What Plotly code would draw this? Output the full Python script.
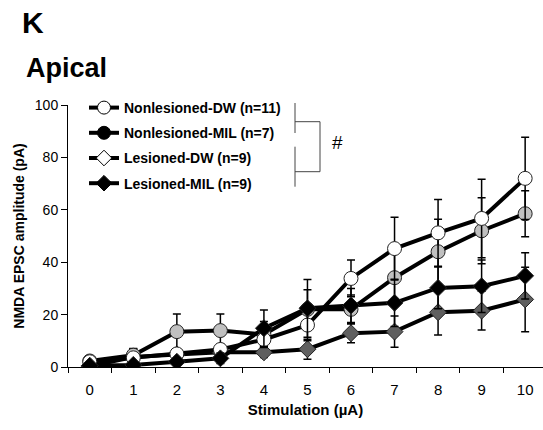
import plotly.graph_objects as go

# ---------------- data ----------------
stim = ["0", "1", "2", "3", "4", "5", "6", "7", "8", "9", "10"]

nl_dw = [2.0, 3.5, 5.0, 6.7, 10.5, 16.0, 33.8, 45.2, 51.2, 56.7, 72.0]
nl_dw_err = [1.0, 1.5, 2.0, 2.0, 3.0, 6.0, 7.0, 12.0, 12.7, 15.0, 15.7]

nl_mil = [2.3, 4.5, 13.5, 13.9, 12.4, 22.0, 22.0, 34.1, 44.0, 52.0, 58.5]
nl_mil_err = [1.0, 2.5, 6.7, 6.3, 5.0, 7.5, 5.5, 10.0, 12.4, 12.6, 8.8]

l_dw = [0.3, 3.8, 4.8, 5.6, 5.6, 6.8, 12.9, 13.5, 20.9, 21.5, 25.8]
l_dw_err = [0.5, 3.3, 1.5, 1.5, 2.0, 3.8, 3.6, 6.0, 8.7, 7.4, 12.3]

l_mil = [0.5, 0.8, 2.0, 3.3, 14.8, 22.4, 23.5, 24.5, 30.2, 30.8, 34.8]
l_mil_err = [0.5, 1.0, 1.5, 2.0, 7.0, 11.0, 6.5, 9.0, 8.0, 10.0, 8.8]

names = ["Nonlesioned-DW (n=11)", "Nonlesioned-MIL (n=7)",
         "Lesioned-DW (n=9)", "Lesioned-MIL (n=9)"]
y_ticks = [0, 20, 40, 60, 80, 100]

FONT = "Arial, 'Liberation Sans', sans-serif"

# ---------------- geometry helpers (pixels -> paper) ----------------
W, H = 543, 430
L, R, T, B = 68, 0, 105, 63
PW, PH = W - L - R, H - T - B


def px(x):
    return (x - L) / PW


def py(y):
    return (H - B - y) / PH


fig = go.Figure()


def series(y, err, symbol, fill, size):
    fig.add_trace(go.Scatter(
        x=stim, y=y, mode="lines+markers", showlegend=False,
        line=dict(color="black", width=4),
        marker=dict(symbol=symbol, size=size, color=fill,
                    line=dict(color="#222222", width=1)),
        error_y=dict(type="data", array=err, visible=True,
                     color="black", thickness=1.5, width=4),
    ))


# plotted series (drawing order)
series(l_dw, l_dw_err, "diamond", "#5f5f5f", 13)
series(nl_mil, nl_mil_err, "circle", "#c0c0c0", 14)
series(nl_dw, nl_dw_err, "circle", "white", 14)
series(l_mil, l_mil_err, "diamond", "black", 13)

# legend entries (legend symbols as in the original figure)
leg_styles = [("circle", "white", 13), ("circle", "black", 13),
              ("diamond", "white", 12), ("diamond", "black", 12)]
for i, (nm, (sym, col, sz)) in enumerate(zip(names, leg_styles)):
    fig.add_trace(go.Scatter(
        x=[None], y=[None], name=nm, mode="lines+markers",
        legendgroup=f"g{i}",
        line=dict(color="black", width=4),
        marker=dict(symbol=sym, size=sz, color=col,
                    line=dict(color="black", width=1)),
    ))

# significance bracket
bk = dict(type="line", xref="paper", yref="paper",
          line=dict(color="#444444", width=1))
x1, x2 = px(295), px(320)
shapes = [
    dict(bk, x0=x1, x1=x1, y0=py(103), y1=py(133)),
    dict(bk, x0=x1, x1=x2, y0=py(121.7), y1=py(121.7)),
    dict(bk, x0=x2, x1=x2, y0=py(121.7), y1=py(171.7)),
    dict(bk, x0=x1, x1=x2, y0=py(171.7), y1=py(171.7)),
    dict(bk, x0=x1, x1=x1, y0=py(146.7), y1=py(186.7)),
]

annotations = [
    dict(text="<b>K</b>", xref="paper", yref="paper", x=px(20), y=py(22),
         xanchor="left", yanchor="middle", showarrow=False,
         font=dict(size=30, color="black", family=FONT)),
    dict(text="<b>Apical</b>", xref="paper", yref="paper", x=px(24), y=py(68),
         xanchor="left", yanchor="middle", showarrow=False,
         font=dict(size=27, color="black", family=FONT)),
    dict(text="#", xref="paper", yref="paper", x=px(337), y=py(142),
         xanchor="center", yanchor="middle", showarrow=False,
         font=dict(size=19, color="black", family=FONT)),
]

fig.update_layout(
    width=W, height=H,
    margin=dict(l=L, r=R, t=T, b=B),
    paper_bgcolor="white", plot_bgcolor="white",
    font=dict(family=FONT, color="black"),
    shapes=shapes, annotations=annotations,
    legend=dict(x=px(84), y=py(92), xanchor="left", yanchor="top",
                bgcolor="rgba(0,0,0,0)", tracegroupgap=4,
                font=dict(size=14, family=FONT, weight="bold"),
                itemwidth=30),
    xaxis=dict(type="category", categoryorder="array", categoryarray=stim,
               range=[-0.5, 10.41], tickson="boundaries",
               ticks="outside", ticklen=5, tickcolor="black",
               showline=True, linecolor="black", linewidth=1,
               showgrid=False, zeroline=False,
               tickfont=dict(size=15), ticklabelstandoff=9,
               title=dict(text="<b>Stimulation (µA)</b>",
                          font=dict(size=15), standoff=7)),
    yaxis=dict(range=[0, 100], tickvals=y_ticks,
               ticks="outside", ticklen=6, tickcolor="black",
               showline=True, linecolor="black", linewidth=1,
               showgrid=False, zeroline=False,
               tickfont=dict(size=14),
               title=dict(text="<b>NMDA EPSC amplitude (pA)</b>",
                          font=dict(size=14), standoff=6)),
)

fig.write_html("out.html")
